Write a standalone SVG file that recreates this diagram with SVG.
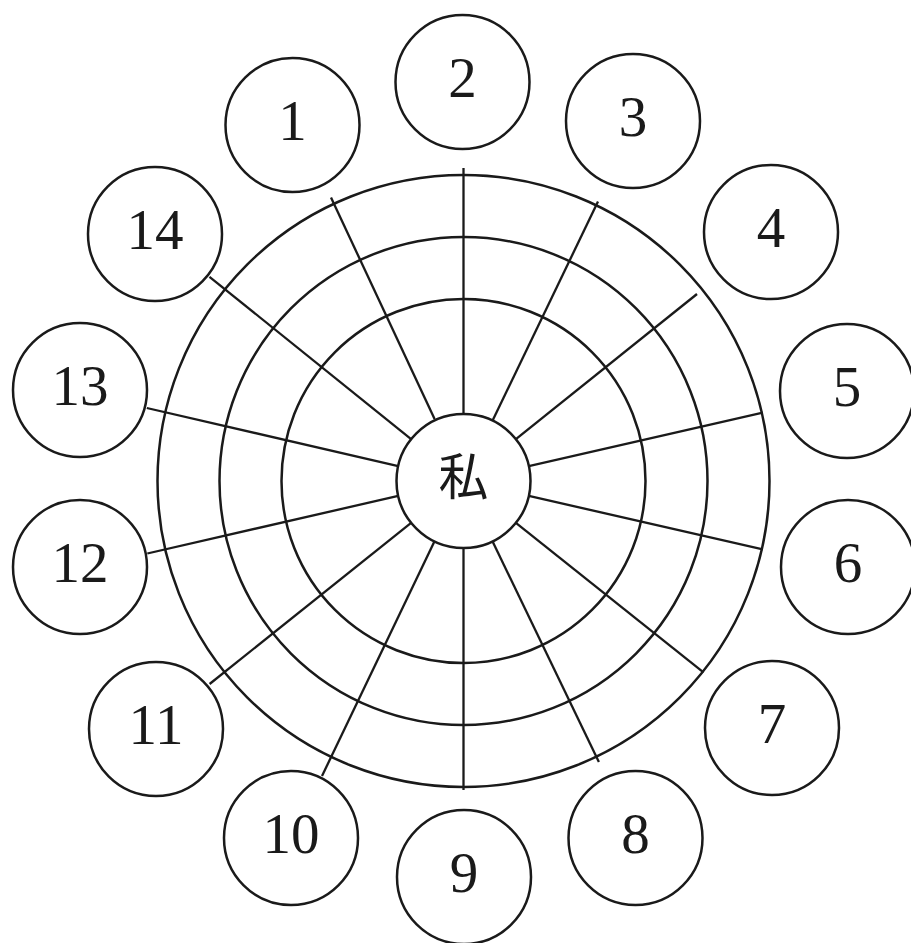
<svg xmlns="http://www.w3.org/2000/svg" width="911" height="943" viewBox="0 0 911 943">
<style>
.ring{fill:none;stroke:#1a1a1a;stroke-width:2.5}
.node circle{fill:#fff;stroke:#1a1a1a;stroke-width:2.5}
.spoke{stroke:#1a1a1a;stroke-width:2.3;stroke-linecap:butt}
.num{font-family:"Liberation Serif","Times New Roman",serif;font-size:57px;fill:#1a1a1a;text-anchor:middle}
.me{font-family:"Noto Sans CJK JP","Noto Sans CJK SC",sans-serif;font-size:50px;fill:#1a1a1a;text-anchor:middle}
</style>
<rect width="911" height="943" fill="#fff"/>
<g id="rings">
<circle class="ring" cx="463.5" cy="481" r="306"/>
<circle class="ring" cx="463.5" cy="481" r="244"/>
<circle class="ring" cx="463.5" cy="481" r="182"/>
</g>
<g id="connectors">
<line class="spoke" x1="463.5" y1="414" x2="463.5" y2="168"/>
<line class="spoke" x1="492.6" y1="420.6" x2="598" y2="201.5"/>
<line class="spoke" x1="515.9" y1="439.2" x2="697" y2="294"/>
<line class="spoke" x1="528.8" y1="466.1" x2="762.8" y2="412.7"/>
<line class="spoke" x1="528.8" y1="495.9" x2="762.8" y2="549.3"/>
<line class="spoke" x1="515.9" y1="522.8" x2="703.5" y2="672.4"/>
<line class="spoke" x1="492.6" y1="541.4" x2="598.9" y2="762.1"/>
<line class="spoke" x1="463.5" y1="548" x2="463.5" y2="790"/>
<line class="spoke" x1="434.4" y1="541.4" x2="322" y2="776"/>
<line class="spoke" x1="411.1" y1="522.8" x2="209.6" y2="684"/>
<line class="spoke" x1="398.2" y1="495.9" x2="147.3" y2="553.5"/>
<line class="spoke" x1="398.2" y1="466.1" x2="146.8" y2="408"/>
<line class="spoke" x1="411.1" y1="439.2" x2="209.5" y2="276.8"/>
<line class="spoke" x1="434.6" y1="419" x2="331" y2="197.5"/>
</g>
<g id="center" class="node"><circle cx="463.5" cy="481" r="67"/><text class="me" x="463.5" y="495">私</text></g>
<g id="n1" class="node"><circle cx="292.5" cy="125" r="67"/><text class="num" x="292.5" y="140">1</text></g>
<g id="n2" class="node"><circle cx="462.5" cy="82" r="67"/><text class="num" x="462.5" y="97">2</text></g>
<g id="n3" class="node"><circle cx="633" cy="121" r="67"/><text class="num" x="633" y="136">3</text></g>
<g id="n4" class="node"><circle cx="771" cy="232" r="67"/><text class="num" x="771" y="247">4</text></g>
<g id="n5" class="node"><circle cx="847" cy="391" r="67"/><text class="num" x="847" y="406">5</text></g>
<g id="n6" class="node"><circle cx="848" cy="567" r="67"/><text class="num" x="848" y="582">6</text></g>
<g id="n7" class="node"><circle cx="772" cy="728" r="67"/><text class="num" x="772" y="743">7</text></g>
<g id="n8" class="node"><circle cx="635.5" cy="838" r="67"/><text class="num" x="635.5" y="853">8</text></g>
<g id="n9" class="node"><circle cx="464" cy="877" r="67"/><text class="num" x="464" y="892">9</text></g>
<g id="n10" class="node"><circle cx="291" cy="838" r="67"/><text class="num" x="291" y="853">10</text></g>
<g id="n11" class="node"><circle cx="156" cy="729" r="67"/><text class="num" x="156" y="744">11</text></g>
<g id="n12" class="node"><circle cx="80" cy="567" r="67"/><text class="num" x="80" y="582">12</text></g>
<g id="n13" class="node"><circle cx="80" cy="390" r="67"/><text class="num" x="80" y="405">13</text></g>
<g id="n14" class="node"><circle cx="155" cy="234" r="67"/><text class="num" x="155" y="249">14</text></g>
</svg>
